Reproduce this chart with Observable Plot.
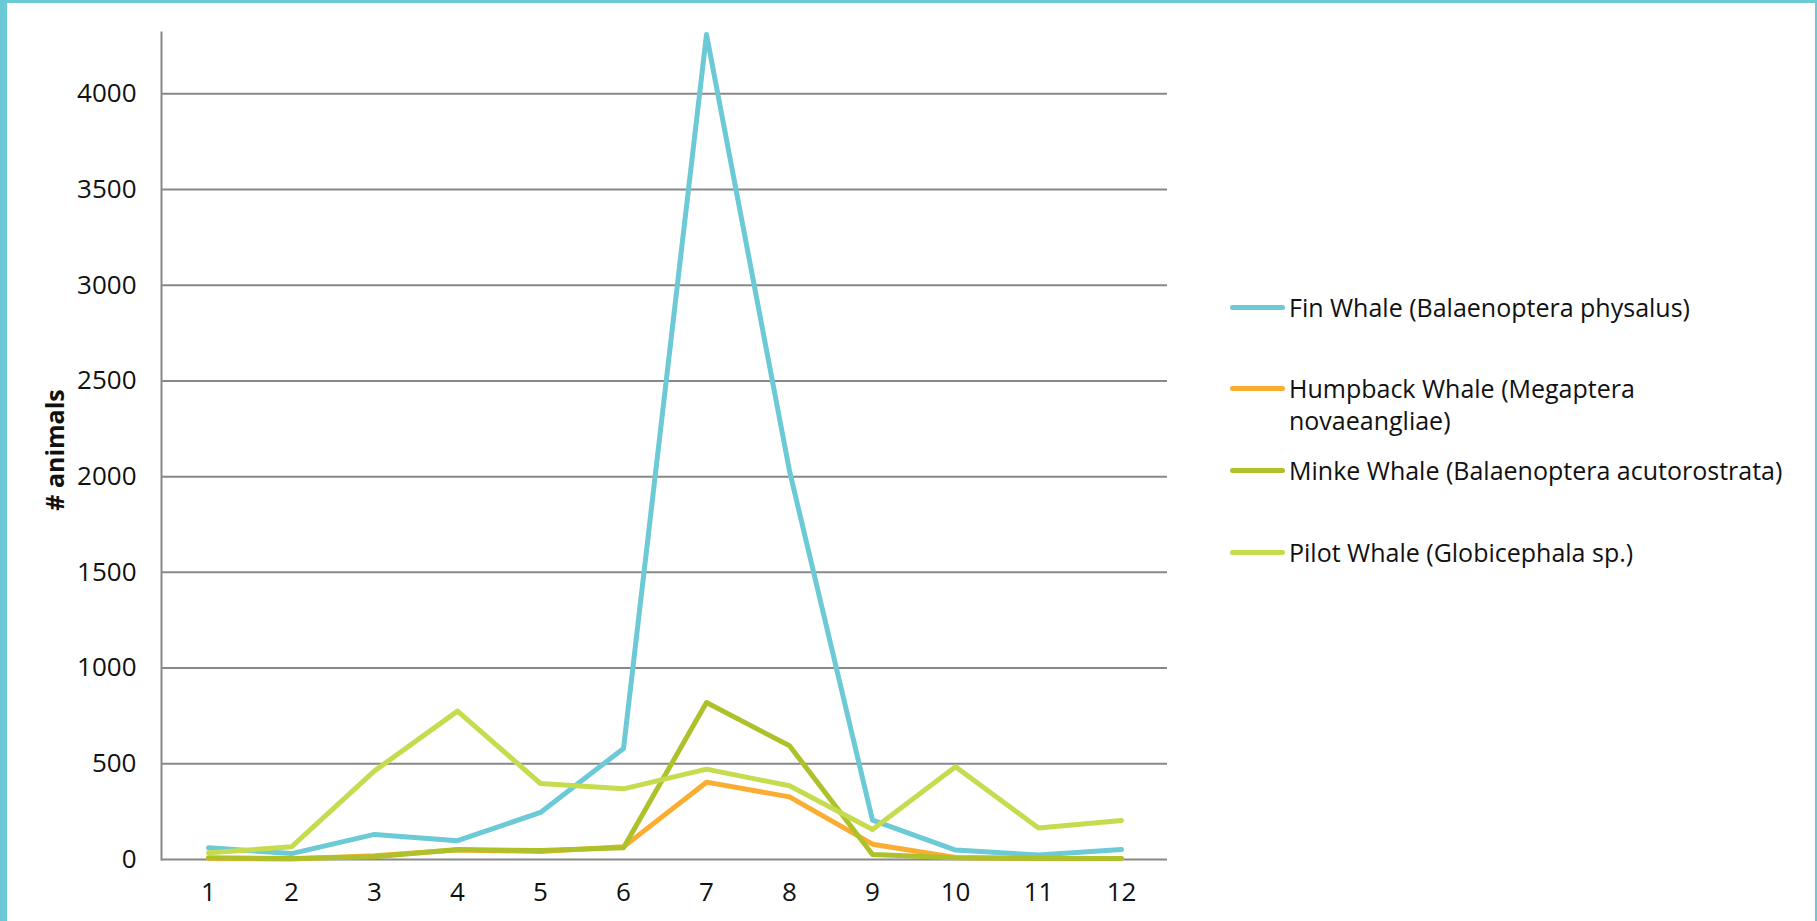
<!DOCTYPE html>
<html>
<head>
<meta charset="utf-8">
<script src="https://cdn.jsdelivr.net/npm/d3@7"></script>
<script src="https://cdn.jsdelivr.net/npm/@observablehq/plot@0.6"></script>
<style>
  html, body { margin: 0; padding: 0; background: #fff; }
  #page { position: relative; width: 1817px; height: 921px; overflow: hidden; background: #fff;
          font-family: "Open Sans", "Noto Sans", sans-serif; }
  .edge { position: absolute; background: #6cc9d6; }
  #chart { position: absolute; left: 0; top: 0; }
  #legend { position: absolute; left: 1230px; top: 0; width: 580px; color: #111; font-size: 25px; }
  .item { position: absolute; left: 0; display: flex; align-items: flex-start; }
  .swatch { width: 55px; height: 5px; border-radius: 3px; margin-right: 4px; flex: none; }
  .label { line-height: 32px; white-space: nowrap; }
</style>
</head>
<body>
<div id="page">
  <div class="edge" style="left:0;top:0;width:7px;height:921px"></div>
  <div class="edge" style="left:0;top:0;width:1817px;height:3px"></div>
  <div class="edge" style="left:1815px;top:0;width:2px;height:921px"></div>
  <div id="chart"></div>
  <div id="legend"></div>
</div>
<script>
// Monthly whale counts
const months = [1, 2, 3, 4, 5, 6, 7, 8, 9, 10, 11, 12];
const seriesNames = [
  "Fin Whale (Balaenoptera physalus)",
  "Humpback Whale (Megaptera novaeangliae)",
  "Minke Whale (Balaenoptera acutorostrata)",
  "Pilot Whale (Globicephala sp.)"
];
const legendLines = [
  ["Fin Whale (Balaenoptera physalus)"],
  ["Humpback Whale (Megaptera", "novaeangliae)"],
  ["Minke Whale (Balaenoptera acutorostrata)"],
  ["Pilot Whale (Globicephala sp.)"]
];
const fin      = [61, 31, 131, 98, 246, 580, 4310, 2030, 206, 49, 23, 52];
const humpback = [5, 3, 20, 50, 42, 66, 404, 327, 80, 10, 5, 5];
const minke    = [9, 5, 14, 52, 47, 61, 820, 594, 26, 9, 5, 5];
const pilot    = [35, 66, 463, 775, 397, 369, 472, 385, 157, 484, 165, 204];
const colors   = ["#6cc9d6", "#fbad31", "#aec12a", "#c6db4e"];
const yTicks   = [0, 500, 1000, 1500, 2000, 2500, 3000, 3500, 4000];

const allSeries = [fin, humpback, minke, pilot];
const rows = allSeries.flatMap((vals, i) =>
  vals.map((v, j) => ({month: months[j], count: v, species: seriesNames[i]}))
);

const chart = Plot.plot({
  width: 1200,
  height: 921,
  marginLeft: 161,
  marginRight: 33,
  marginTop: 32,
  marginBottom: 62,
  style: {fontFamily: '"Open Sans", "Noto Sans", sans-serif', fontSize: "26px", color: "#111", background: "transparent"},
  x: {type: "point", domain: months, padding: 0.5},
  y: {domain: [0, 4320]},
  color: {domain: seriesNames, range: colors},
  marks: [
    Plot.ruleY(yTicks, {stroke: "#888", strokeWidth: 2, strokeOpacity: 1}),
    Plot.frame({anchor: "left", stroke: "#888", strokeWidth: 2, strokeOpacity: 1}),
    Plot.axisY(yTicks, {tickSize: 0, tickPadding: 25, label: null, fontSize: 26, tickFormat: d => String(d)}),
    Plot.axisX(months, {tickSize: 0, tickPadding: 23, label: null, fontSize: 26}),
    Plot.text(["# animals"], {frameAnchor: "left", dx: -106, dy: 4, rotate: -90, textAnchor: "middle",
                              fontWeight: "bold", fontSize: 25, fill: "#111"}),
    Plot.line(rows, {x: "month", y: "count", z: "species", stroke: "species",
                     strokeWidth: 5, strokeLinecap: "round"})
  ]
});
document.getElementById("chart").appendChild(chart);

// Legend on the right
const legend = document.getElementById("legend");
const legendY = [307, 388, 470, 552];
seriesNames.forEach((name, i) => {
  const item = document.createElement("div");
  item.className = "item";
  item.style.top = (legendY[i] - 16) + "px";
  const sw = document.createElement("div");
  sw.className = "swatch";
  sw.style.background = colors[i];
  sw.style.marginTop = "14px";
  const lab = document.createElement("div");
  lab.className = "label";
  lab.innerHTML = legendLines[i].join("<br>");
  item.appendChild(sw);
  item.appendChild(lab);
  legend.appendChild(item);
});
</script>
</body>
</html>
